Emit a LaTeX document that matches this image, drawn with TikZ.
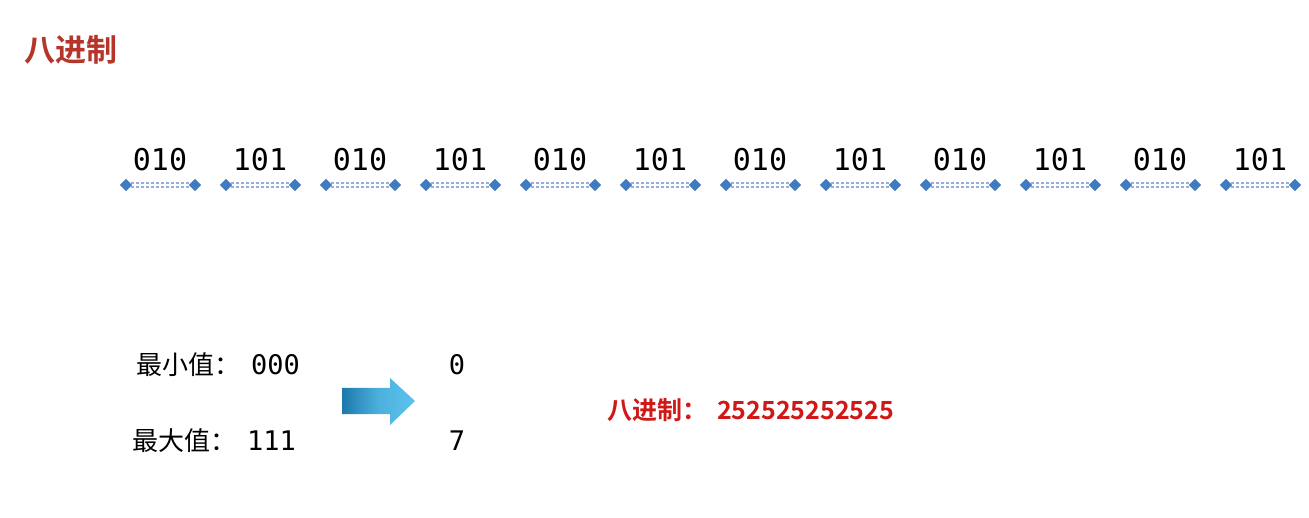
\documentclass[tikz,border=0pt]{standalone}
\usepackage{fontspec}
\setmonofont{DejaVu Sans Mono}
\newfontfamily\cjk{Noto Sans CJK SC}
\newfontfamily\cjkb{Noto Sans CJK SC Bold}
\usetikzlibrary{shapes.geometric}
\definecolor{titlered}{HTML}{B5352B}
\definecolor{redtxt}{HTML}{D01818}
\definecolor{diam}{HTML}{3E7BC2}
\definecolor{dashc}{HTML}{94B0D6}
\definecolor{arrdark}{HTML}{1D79AA}
\definecolor{arrlight}{HTML}{5CC3EE}
\newcommand\digfont{\ttfamily\fontsize{27}{27}\selectfont}
\tikzset{
  bits/.style={font=\ttfamily\fontsize{30}{30}\selectfont, inner sep=0pt, anchor=base},
  tip/.style={diamond, fill=diam, inner sep=0pt, minimum size=12pt},
  segline/.style={dashc, line width=1.8pt, dash pattern=on 3pt off 2pt},
  lab/.style={inner sep=0pt, anchor=base west, font=\cjk\fontsize{26}{26}\selectfont},
  digs/.style={font=\digfont},
}
\begin{document}
\begin{tikzpicture}[x=1pt,y=-1pt]
\useasboundingbox (0,0) rectangle (1309,518);
\fill[white] (0,0) rectangle (1309,518);
\node[inner sep=0pt, anchor=base west, text=titlered, font=\cjkb\fontsize{31}{31}\selectfont] (title) at (24,62) {八进制};
\foreach \i in {0,...,11} {
  \pgfmathsetmacro{\cx}{160+100*\i}
  \pgfmathtruncatemacro{\odd}{mod(\i,2)}
  \ifnum\odd=0 \def\txt{010}\else\def\txt{101}\fi
  \node[bits] (b\i) at (\cx,171) {\txt};
  \node[tip] (l\i) at (\cx-34,185) {};
  \node[tip] (r\i) at (\cx+35,185) {};
  \draw[segline] ([yshift=-1.8pt]l\i.center) -- ([yshift=-1.8pt]r\i.center);
  \draw[segline] ([yshift=1.8pt]l\i.center) -- ([yshift=1.8pt]r\i.center);
  \node[tip] at (l\i) {};
  \node[tip] at (r\i) {};
}
\node[lab] (min) at (136,374) {最小值：\hspace{11pt}{\digfont 000}};
\node[lab] (max) at (132,450) {最大值：\hspace{11pt}{\digfont 111}};
\node[bits, digs] (zero) at (457,374) {0};
\node[bits, digs] (seven) at (457,450) {7};
\coordinate (arrs) at (342,401);
\shade[left color=arrdark, right color=arrlight, middle color=arrlight!75!arrdark]
  (arrs) ++(0,-13) -- ++(48,0) -- ++(0,-10) -- ++(25,23) -- ++(-25,24) -- ++(0,-11) -- ++(-48,0) -- cycle;
\node[lab, text=redtxt, font=\cjkb\fontsize{25}{25}\selectfont] (oct) at (607,419) {八进制：\hspace{10pt}252525252525};
\end{tikzpicture}
\end{document}
